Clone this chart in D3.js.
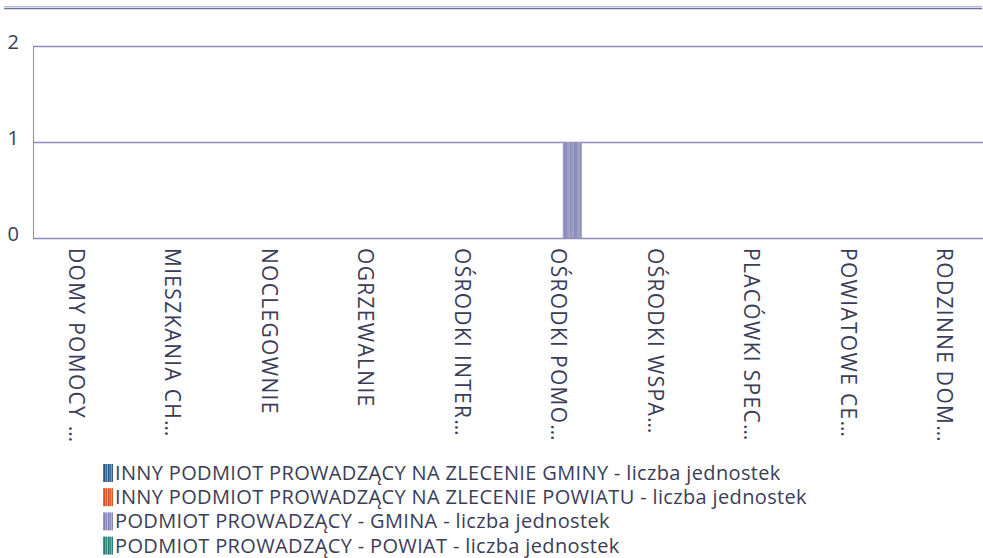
<!DOCTYPE html>
<html>
<head>
<meta charset="utf-8">
<script src="https://cdn.jsdelivr.net/npm/d3@7"></script>
<style>
  html, body { margin: 0; padding: 0; background: #fff; }
  svg { display: block; }
  text { font-family: "Open Sans", sans-serif; fill: #3b3d58; }
</style>
</head>
<body>
<svg id="chart" width="983" height="558"></svg>
<script>
// Facility types (labels as shown, shortened)
const categories = [
  "DOMY POMOCY …",
  "MIESZKANIA CH…",
  "NOCLEGOWNIE",
  "OGRZEWALNIE",
  "OŚRODKI INTER…",
  "OŚRODKI POMO…",
  "OŚRODKI WSPA…",
  "PLACÓWKI SPEC…",
  "POWIATOWE CE…",
  "RODZINNE DOM…"
];

const seriesNames = [
  "INNY PODMIOT PROWADZĄCY NA ZLECENIE GMINY - liczba jednostek",
  "INNY PODMIOT PROWADZĄCY NA ZLECENIE POWIATU - liczba jednostek",
  "PODMIOT PROWADZĄCY - GMINA - liczba jednostek",
  "PODMIOT PROWADZĄCY - POWIAT - liczba jednostek"
];

// Number of units per series, one value per category
const innyGmina  = [0, 0, 0, 0, 0, 0, 0, 0, 0, 0];
const innyPowiat = [0, 0, 0, 0, 0, 0, 0, 0, 0, 0];
const gmina      = [0, 0, 0, 0, 0, 1, 0, 0, 0, 0];
const powiat     = [0, 0, 0, 0, 0, 0, 0, 0, 0, 0];

const yTicks = [0, 1, 2];

const seriesValues = [innyGmina, innyPowiat, gmina, powiat];

// Striped fills: [dark, light] per series
const stripeColors = [
  ["#24527f", "#9db8cf"],
  ["#d4501f", "#f1a585"],
  ["#7f7fb2", "#c3c3dc"],
  ["#1f7a72", "#96c8c2"]
];

const svg = d3.select("#chart");
const defs = svg.append("defs");

// Build a vertical-stripe pattern for each series
const stripeSteps = [0.35, 0.0, 0.6, 0.15, 0.9, 0.05, 0.45, 0.25, 0.75, 0.1];
stripeColors.forEach((c, i) => {
  const interp = d3.interpolateRgb(c[0], c[1]);
  const p = defs.append("pattern")
    .attr("id", "stripe" + i)
    .attr("patternUnits", "userSpaceOnUse")
    .attr("width", 10).attr("height", 10);
  stripeSteps.forEach((t, k) => {
    p.append("rect").attr("x", k).attr("y", 0)
      .attr("width", 1).attr("height", 10)
      .attr("fill", interp(t));
  });
});

// Scales
const x0 = d3.scaleBand()
  .domain(categories)
  .range([32, 997])
  .paddingInner(0.21)
  .paddingOuter(0.105);

const x1 = d3.scaleBand()
  .domain(d3.range(seriesNames.length))
  .range([0, x0.bandwidth()]);

const y = d3.scaleLinear().domain([0, 2]).range([238, 46]);

// Header rule (double line)
svg.append("line").attr("x1", 4).attr("x2", 982).attr("y1", 6.5).attr("y2", 6.5)
  .attr("stroke", "#b7bad6").attr("stroke-width", 1);
svg.append("line").attr("x1", 4).attr("x2", 982).attr("y1", 8.5).attr("y2", 8.5)
  .attr("stroke", "#6e73a3").attr("stroke-width", 1.5);

// Horizontal grid lines
svg.append("g").selectAll("line").data(yTicks).join("line")
  .attr("x1", 33).attr("x2", 983)
  .attr("y1", d => Math.round(y(d)) + 0.5)
  .attr("y2", d => Math.round(y(d)) + 0.5)
  .attr("stroke", "#8d8fbb").attr("stroke-width", 1.3);

// Left axis line
svg.append("line").attr("x1", 33.5).attr("x2", 33.5)
  .attr("y1", y(2)).attr("y2", y(0) + 1)
  .attr("stroke", "#8d8fbb").attr("stroke-width", 1);

// Y tick labels
svg.append("g").selectAll("text").data(yTicks).join("text")
  .attr("x", 19).attr("y", d => y(d) + 3)
  .attr("text-anchor", "end")
  .attr("font-size", 20)
  .text(d => d);

// Bars
const groups = svg.append("g").selectAll("g").data(categories).join("g")
  .attr("transform", d => `translate(${x0(d)},0)`);

groups.selectAll("rect")
  .data((d, ci) => seriesValues.map((vals, si) => ({ si, v: vals[ci] })))
  .join("rect")
  .attr("x", d => x1(d.si))
  .attr("width", x1.bandwidth())
  .attr("y", d => y(d.v))
  .attr("height", d => y(0) - y(d.v))
  .attr("fill", d => `url(#stripe${d.si})`);

// X axis labels, rotated
svg.append("g").selectAll("text").data(categories).join("text")
  .attr("transform", d => `translate(${x0(d) + x0.bandwidth() / 2 - 4},248) rotate(90)`)
  .attr("dy", "0.35em")
  .attr("font-size", 21)
  .attr("letter-spacing", 1.3)
  .text(d => d);

// Legend
const legend = svg.append("g").selectAll("g").data(seriesNames).join("g")
  .attr("transform", (d, i) => `translate(103,${465 + i * 24.2})`);

legend.append("rect")
  .attr("y", -1)
  .attr("width", 10).attr("height", 18)
  .attr("fill", (d, i) => `url(#stripe${i})`);

legend.append("text")
  .attr("x", 12).attr("y", 15)
  .attr("font-size", 20)
  .attr("letter-spacing", 0.35)
  .text(d => d);
</script>
</body>
</html>
